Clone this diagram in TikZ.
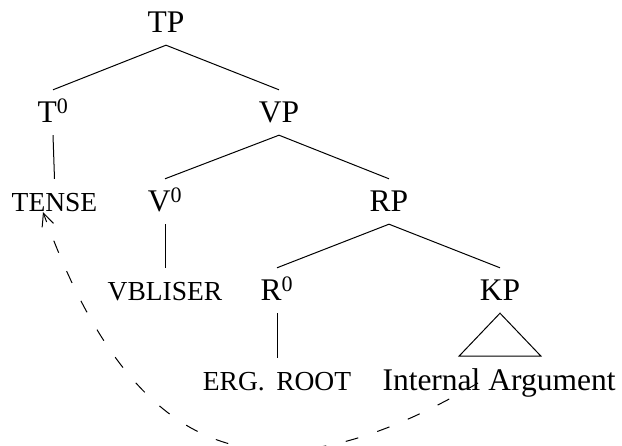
\documentclass[tikz,border=0pt]{standalone}
\usepackage{fontspec}
\setmainfont{Liberation Serif}
\usetikzlibrary{arrows.meta}
\begin{document}
\begin{tikzpicture}[x=1pt,y=-1pt,
  lab/.style={anchor=base, inner xsep=0pt, inner ysep=12pt, text height=21pt, text depth=0pt, font=\fontsize{31.5}{36}\selectfont},
  sc/.style={lab, font=\fontsize{27.5}{32}\selectfont},
  branch/.style={line width=1pt},
  move/.style={line width=1pt, dash pattern=on 13pt off 20pt, -{Straight Barb[length=13pt,width=12pt]}}]
\useasboundingbox (0,0) rectangle (622,446);
\node[lab] (TP) at (166,33) {TP};
\node[lab] (T0) at (53,123) {T\textsuperscript{0}};
\node[lab] (VP) at (279,123) {VP};
\node[sc] (TENSE) at (54.5,212) {TENSE};
\node[lab] (V0) at (165,212) {V\textsuperscript{0}};
\node[lab] (RP) at (389,212) {RP};
\node[sc] (VB) at (165,301) {VBLISER};
\node[lab] (R0) at (277,301) {R\textsuperscript{0}};
\node[lab] (KP) at (500,301) {KP};
\node[sc] (ERG) at (277,391) {ERG.\hspace{0.42em}ROOT};
\node[lab] (IA) at (499,391) {Internal Argument};
\draw[branch] (TP.south) -- (T0.north);
\draw[branch] (TP.south) -- (VP.north);
\draw[branch] (T0.south) -- (TENSE.north);
\draw[branch] (VP.south) -- (V0.north);
\draw[branch] (VP.south) -- (RP.north);
\draw[branch] (V0.south) -- (VB.north);
\draw[branch] (RP.south) -- (R0.north);
\draw[branch] (RP.south) -- (KP.south |- KP.north);
\draw[branch] (R0.south) -- (ERG.north);
\draw[branch] (KP.south) -- ++(-41,43) -- ++(82,0) -- cycle;
\coordinate (mvs) at (478,383);
\coordinate (mve) at (43,212);
\draw[move] (mvs) .. controls (284,496) and (141,485) .. (mve);
\end{tikzpicture}
\end{document}
